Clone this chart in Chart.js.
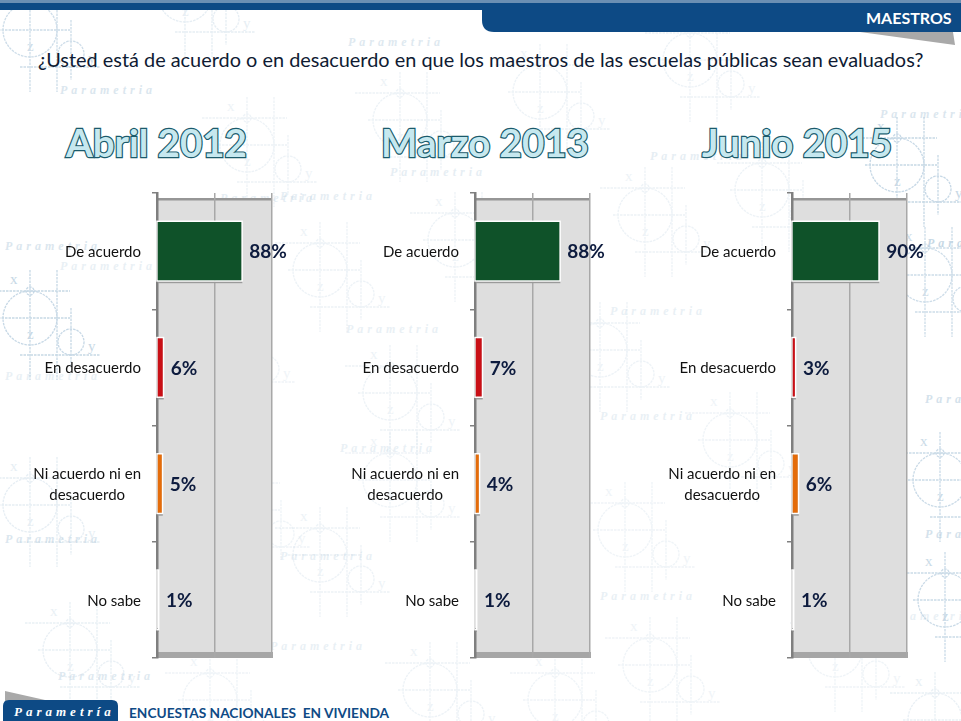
<!DOCTYPE html>
<html lang="es"><head><meta charset="utf-8">
<script src="https://cdn.jsdelivr.net/npm/chart.js@4/dist/chart.umd.min.js"></script>
<style>
html,body{margin:0;padding:0;background:#fff;overflow:hidden}
#stage{position:relative;width:961px;height:721px;overflow:hidden;background:#fff;font-family:Lato,sans-serif}
#stage svg,#stage canvas{position:absolute}
.t{position:absolute;white-space:pre;line-height:1}
.period{font:700 38.5px Lato,sans-serif;color:#c6e8ef;-webkit-text-stroke:2.4px #1b5a6b;paint-order:stroke fill}
</style></head><body>
<div id="stage">
<svg id="wm" width="961" height="721" viewBox="0 0 961 721" style="left:0;top:0"></svg>
<svg width="961" height="721" viewBox="0 0 961 721" style="left:0;top:0">
  <rect x="0" y="0" width="961" height="3" fill="#6b8fb3"/>
  <rect x="0" y="3" width="490" height="7" fill="#0d4a85"/>
  <path d="M860 32 L953 32 L955 45 Z" fill="#a9a9a9"/>
  <path d="M482 3 H961 V32 H494 Q482 32 482 20 Z" fill="#0d4a85"/>
  <path d="M5 691 L45 700 L5 703 Z" fill="#a9a9a9"/>
  <path d="M3 721 V706 Q3 700 9 700 H112 Q118 700 118 706 V721 Z" fill="#0d4a85"/>
</svg>
<div class="t" style="left:866px;top:8px;font:700 16px Lato,sans-serif;color:#fff">MAESTROS</div>
<div class="t" id="q" style="left:38px;top:47px;font:400 19.9px Lato,sans-serif;color:#0f1b33">¿Usted está de acuerdo o en desacuerdo en que los maestros de las escuelas públicas sean evaluados?</div>
<div class="t period" style="left:66px;top:119px">Abril 2012</div>
<div class="t period" style="left:381px;top:119px">Marzo 2013</div>
<div class="t period" style="left:702px;top:119px">Junio 2015</div>
<div class="t" style="left:14px;top:704px;font:italic 700 13px 'Liberation Serif',serif;letter-spacing:4px;color:#fff">Parametría</div>
<div class="t" style="left:129px;top:704px;font:700 13.7px Lato,sans-serif;color:#0f4a85">ENCUESTAS NACIONALES  EN VIVIENDA</div>
<canvas id="c1" width="320" height="500" style="left:0;top:170px;width:320px;height:500px"></canvas>
<canvas id="c2" width="320" height="500" style="left:318px;top:170px;width:320px;height:500px"></canvas>
<canvas id="c3" width="320" height="500" style="left:635px;top:170px;width:320px;height:500px"></canvas>
</div>
<script>
const categories = ["De acuerdo", "En desacuerdo", ["Ni acuerdo ni en", "desacuerdo"], "No sabe"];
const abril2012 = [88, 6, 5, 1];
const marzo2013 = [88, 7, 4, 1];
const junio2015 = [90, 3, 6, 1];
const barColors = ["#0f5229", "#c90f16", "#e46c0a", "#ffffff"];
const axisMax = 120;
const axisStep = 60;

/* faint decorative watermark behind the charts */
const NS = "http://www.w3.org/2000/svg";
const wm = document.getElementById("wm");
function el(n, a, txt){ const e = document.createElementNS(NS, n); for (const k in a) e.setAttribute(k, a[k]); if (txt) e.textContent = txt; return e; }
function motif(cx, cy, op){
  const g = el("g", {stroke:"#b9cfe0", fill:"none", "stroke-width":1.3, "stroke-dasharray":"2.5 1", opacity:op});
  g.appendChild(el("circle",{cx,cy,r:27}));
  g.appendChild(el("circle",{cx,cy:cy-27,r:4}));
  g.appendChild(el("circle",{cx:cx+41,cy:cy+24,r:13}));
  [[cx-32,cy,cx+40,cy],[cx,cy-48,cx,cy+62],[cx+27,cy-48,cx+27,cy+62],[cx-45,cy-27,cx+40,cy-27],[cx-10,cy+37,cx+70,cy+37],[cx+41,cy-10,cx+41,cy+50]]
    .forEach(l=>g.appendChild(el("line",{x1:l[0],y1:l[1],x2:l[2],y2:l[3]})));
  const tx = {fill:"#b9cfe0",stroke:"none","font-family":"Liberation Serif, serif","font-size":15};
  g.appendChild(el("text",{...tx,x:cx-3,y:cy+21},"z"));
  g.appendChild(el("text",{...tx,x:cx+58,y:cy+33},"y"));
  g.appendChild(el("text",{...tx,x:cx-20,y:cy-34},"x"));
  wm.appendChild(g);
}
function brand(x, y, op){
  wm.appendChild(el("text",{x,y,opacity:op,fill:"#b9cfe0","font-family":"Liberation Serif, serif","font-style":"italic","font-weight":700,"font-size":12,"letter-spacing":4},"Parametria"));
}
[[30,30,.7],[185,-5,.35],[247,145,.25],[400,120,.25],[540,92,.25],[690,60,.25],[897,165,.8],
 [30,318,.8],[320,270,.25],[455,240,.25],[645,215,.25],[762,190,.25],[925,275,.7],
 [225,345,.22],[390,393,.25],[600,350,.25],[730,440,.22],[940,480,.75],
 [30,505,.35],[240,510,.22],[390,480,.22],[625,530,.22],[945,600,.75],
 [70,650,.3],[320,555,.25],[430,690,.25],[650,665,.22],[835,650,.22],[210,700,.22],[555,700,.22],[935,720,.3]]
  .forEach(m=>motif(m[0],m[1],m[2]));
[[60,94,.5],[348,46,.45],[610,30,.35],[880,118,.5],[220,202,.35],[390,176,.35],[650,160,.35],[280,200,.35],
 [5,250,.5],[60,270,.3],[346,333,.3],[610,315,.3],[927,247,.8],[925,403,.6],[5,380,.3],
 [340,452,.3],[600,420,.3],[5,543,.5],[925,538,.6],[280,560,.3],[600,600,.3],[58,680,.45],[270,650,.3],[880,620,.3]]
  .forEach(b=>brand(b[0],b[1],b[2]));

/* plot walls behind the grid */
const walls = {
  id: "walls",
  beforeDraw(chart){
    const {ctx, chartArea:a} = chart;
    ctx.save();
    ctx.fillStyle = "#dedede";
    ctx.fillRect(a.left, a.top + 6, a.right - a.left, a.bottom - a.top - 6);
    ctx.fillStyle = "#969696";
    ctx.fillRect(a.left, a.top + 5, a.right - a.left, 2.5);
    ctx.fillStyle = "#a6a6a6";
    ctx.fillRect(a.left, a.bottom - 6, a.right - a.left + 1, 6);
    ctx.restore();
  },
  /* white halo and small floor shadow outside each bar */
  beforeDatasetsDraw(chart){
    const {ctx} = chart;
    ctx.save();
    chart.getDatasetMeta(0).data.forEach(bar => {
      const top = bar.y - bar.height / 2, w = bar.x - bar.base;
      ctx.fillStyle = "#9a9a9a";
      ctx.fillRect(bar.base, top + bar.height + 1, w + 1, 2);
      ctx.strokeStyle = "#ffffff";
      ctx.lineWidth = 1.5;
      ctx.strokeRect(bar.base - 0.75, top - 0.75, w + 1.5, bar.height + 1.5);
    });
    ctx.restore();
  }
};
/* category labels (single lines right aligned, wrapped block centred) and value labels */
const labels = {
  id: "labels",
  afterDraw(chart){
    const {ctx, scales:{y}} = chart;
    const right = y.right - 16;
    ctx.save();
    ctx.font = "400 15px Lato, sans-serif";
    ctx.fillStyle = "#111111";
    ctx.textBaseline = "middle";
    categories.forEach((c, i) => {
      const py = y.getPixelForTick(i) + 1;
      const lines = Array.isArray(c) ? c : [c];
      const w = Math.max(...lines.map(l => ctx.measureText(l).width));
      ctx.textAlign = "center";
      lines.forEach((l, k) => ctx.fillText(l, right - w / 2, py + (k - (lines.length - 1) / 2) * 21));
    });
    const meta = chart.getDatasetMeta(0);
    ctx.font = "700 19px Lato, sans-serif";
    ctx.fillStyle = "#0d1b3e";
    ctx.textAlign = "left";
    meta.data.forEach((bar, i) => {
      ctx.fillText(chart.data.datasets[0].data[i] + "%", bar.x + 8, bar.y + 1);
    });
    ctx.restore();
  }
};
function draw(id, values){
  new Chart(document.getElementById(id), {
    type: "bar",
    data: { labels: categories, datasets: [{ data: values, backgroundColor: barColors, borderWidth: 0, barPercentage: 0.5, categoryPercentage: 1 }] },
    options: {
      indexAxis: "y", responsive: false, animation: false, devicePixelRatio: 1,
      layout: { padding: { right: 48, bottom: 12, left: 0, top: 0 } },
      plugins: { legend: { display: false }, tooltip: { enabled: false }, title: { display: false } },
      scales: {
        x: { position: "top", min: 0, max: axisMax, ticks: { stepSize: axisStep, display: false },
             grid: { color: "#a8a8a8", lineWidth: 1.5, drawTicks: false }, border: { display: false },
             afterFit(s){ s.height = 23; } },
        y: { ticks: { display: false },
             grid: { offset: true, drawOnChartArea: false, tickLength: 5, color: "#808080", lineWidth: 1.5 },
             border: { display: true, color: "#7f7f7f", width: 2.5 },
             afterFit(s){ s.width = 157; } }
      }
    },
    plugins: [walls, labels]
  });
}
draw("c1", abril2012);
draw("c2", marzo2013);
draw("c3", junio2015);
</script>
</body></html>
